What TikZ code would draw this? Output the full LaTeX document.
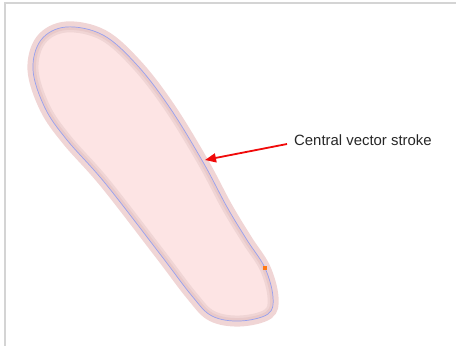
\documentclass[tikz,border=0pt]{standalone}
\usepackage{fontspec}
\setmainfont{Liberation Sans}
\usetikzlibrary{arrows.meta}
\definecolor{fillpink}{RGB}{253,228,228}
\definecolor{halo}{RGB}{240,213,213}
\definecolor{haloin}{RGB}{233,201,201}
\definecolor{strokeblue}{RGB}{150,160,240}
\definecolor{framegray}{RGB}{212,212,212}
\definecolor{arrred}{RGB}{240,10,10}
\definecolor{dotorange}{RGB}{255,120,20}
\tikzset{
  framebox/.style={draw=framegray, line width=2pt},
  pointer/.style={draw=arrred, line width=1.8pt, -{Triangle[length=11pt,width=9pt]}},
  callout/.style={font=\fontsize{14.9}{16}\selectfont, text=black!85, inner sep=0pt, anchor=west},
  knot/.style={fill=dotorange, minimum size=4pt, inner sep=0pt}
}
\def\strokeshape{plot[smooth cycle, tension=0.6] coordinates{
  (66,27) (103,35) (137,65) (170,108) (203,162) (227,207) (247,240) (265,268)
  (273,297) (268,314) (240,321) (212,316) (192,296) (160,254) (105,183) (67,140)
  (45,108) (33,70) (41,40)}}
\begin{document}
\begin{tikzpicture}[x=1pt,y=-1pt]
\useasboundingbox (0,0) rectangle (456,346);
\draw[framebox] (5,346) -- (5,3) -- (456,3);
% halo and fill
\draw[halo, line width=11pt, fill=fillpink] \strokeshape;
\begin{scope}
  \clip \strokeshape;
  \draw[haloin, line width=6pt] \strokeshape;
\end{scope}
\draw[strokeblue, line width=0.7pt] \strokeshape;
\node[knot] (dot) at (265,268) {};
\node[callout] (label) at (294,140) {Central vector stroke};
\coordinate (tip) at (205,160);
\coordinate (tail) at (287,144);
\draw[pointer] (tail) -- (tip);
\end{tikzpicture}
\end{document}
